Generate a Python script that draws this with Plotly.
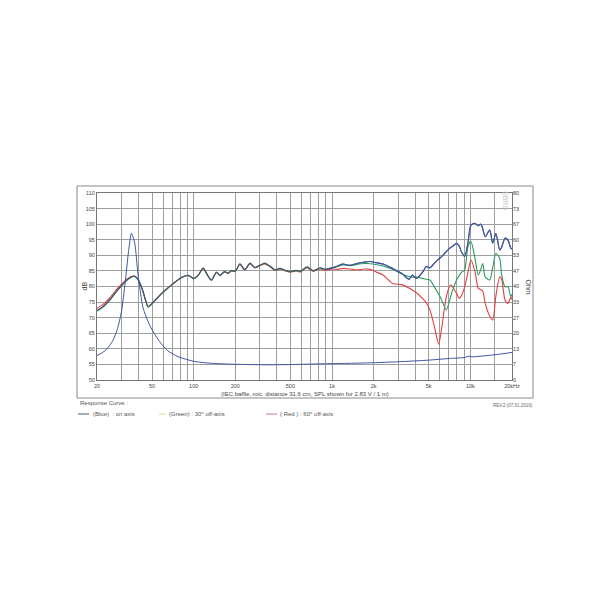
import plotly.graph_objects as go

# ---------------- data ----------------
freq_hz = [20, 22, 25, 28, 30, 32, 34.6, 36, 37.6, 39.6, 41, 43, 45, 46.8, 49.5, 53, 58.6, 64, 69.4, 75,
           82, 91.7, 99.8, 108, 117, 127, 134.5, 146, 155, 167, 177, 187, 200, 216, 234, 255, 277, 300,
           326, 360, 386, 420, 460, 500, 550, 590, 660, 730, 820, 900, 1000, 1100, 1200, 1350, 1510,
           1700, 1890, 2100, 2340, 2740, 3200, 3600, 3800, 4080, 4500, 4800, 5100, 5500, 5900, 6200,
           6700, 7200, 7400, 7950, 8300, 8600, 9100, 9600, 10100, 10800, 11400, 11900, 12300, 12800,
           13800, 14500, 15300, 16300, 16800, 17800, 18700, 19600, 20000]

spl_on_axis = [72.3, 73.5, 76.0, 78.8, 80.3, 81.6, 82.8, 83.2, 83.3, 82.3, 81.0, 78.5, 75.5, 73.6, 74.4,
               75.8, 77.8, 79.3, 80.6, 81.8, 83.0, 83.6, 82.6, 83.7, 85.9, 83.4, 82.1, 84.6, 83.6, 84.8,
               84.3, 85.1, 85.0, 87.3, 85.4, 87.5, 86.1, 86.8, 87.5, 86.4, 85.4, 85.8, 85.2, 84.8, 85.2,
               84.9, 86.3, 85.1, 86.0, 85.5, 86.0, 86.6, 87.2, 86.8, 87.4, 87.8, 88.0, 87.6, 87.2, 85.8,
               84.2, 82.3, 83.7, 82.6, 84.5, 86.4, 86.0, 87.5, 88.8, 89.6, 91.2, 92.5, 92.8, 93.9, 93.0,
               91.2, 89.6, 93.9, 99.7, 100.3, 99.5, 100.0, 98.5, 96.0, 98.1, 93.9, 97.0, 91.7, 92.5,
               95.5, 94.9, 92.3, 92.0]

spl_30deg = [72.1, 73.3, 75.8, 78.6, 80.1, 81.5, 82.7, 83.1, 83.2, 82.2, 80.8, 78.3, 75.3, 73.4, 74.2,
             75.6, 77.7, 79.2, 80.5, 81.7, 82.9, 83.5, 82.5, 83.6, 85.8, 83.3, 82.0, 84.5, 83.5, 84.7,
             84.2, 85.0, 84.9, 87.2, 85.3, 87.4, 86.0, 86.7, 87.4, 86.3, 85.3, 85.7, 85.1, 84.7, 85.1,
             84.8, 86.2, 85.0, 85.9, 85.4, 85.9, 86.4, 86.9, 86.7, 87.1, 87.4, 87.3, 87.0, 86.6, 85.5,
             84.0, 83.2, 83.0, 83.0, 82.6, 82.3, 82.1, 79.8, 77.5, 75.7, 72.5, 76.7, 78.5, 82.1, 83.5,
             84.5, 85.3, 92.8, 94.4, 89.0, 83.7, 85.5, 87.4, 83.1, 82.1, 86.0, 90.6, 89.0, 84.0, 79.9,
             80.0, 76.7, 77.5]

spl_60deg = [73.0, 74.2, 76.6, 79.3, 80.7, 81.9, 83.0, 83.3, 83.3, 82.2, 80.9, 78.4, 75.4, 73.5, 74.3,
             75.7, 77.7, 79.2, 80.5, 81.7, 82.9, 83.5, 82.5, 83.6, 85.8, 83.3, 82.0, 84.5, 83.5, 84.7,
             84.2, 85.0, 84.9, 87.1, 85.3, 87.3, 86.0, 86.6, 87.2, 86.2, 85.2, 85.6, 85.0, 84.6, 85.0,
             84.7, 86.0, 84.9, 85.6, 85.2, 85.6, 85.5, 85.8, 85.6, 85.3, 85.6, 85.5, 84.6, 83.7, 81.0,
             80.6, 79.5, 78.9, 78.0, 76.2, 74.8, 72.5, 67.1, 61.5, 66.5, 76.7, 80.5, 80.0, 77.8, 76.2,
             77.0, 79.9, 84.5, 88.5, 84.8, 79.4, 79.0, 78.5, 74.6, 70.5, 69.2, 77.0, 83.1, 82.5, 75.7,
             74.6, 76.5, 75.8]

imp_freq_hz = [20, 22, 24, 26, 28, 30, 32, 33.8, 35.5, 37.5, 39.6, 43, 48, 53, 58, 65, 77, 90, 102,
               130, 177, 250, 350, 500, 700, 1000, 1500, 2000, 3000, 5000, 7000, 9000, 9800, 10300,
               11000, 13000, 15000, 17500, 20000]
impedance_ohm = [10.5, 11.8, 13.8, 16.8, 21.5, 29.0, 42.0, 55.0, 62.8, 58.5, 45.0, 31.0, 23.5, 19.0,
                 15.7, 12.5, 10.0, 8.7, 7.9, 7.2, 6.8, 6.6, 6.5, 6.6, 6.8, 7.0, 7.2, 7.4, 7.8, 8.5,
                 9.2, 9.6, 10.2, 9.9, 10.0, 10.4, 10.8, 11.3, 11.8]

grid_freqs = [20, 30, 40, 50, 60, 70, 80, 90, 100, 200, 300, 400, 500, 600, 700, 800, 900,
              1000, 2000, 3000, 4000, 5000, 6000, 7000, 8000, 9000, 10000, 15000, 20000]
x_labels = {20: "20", 50: "50", 100: "100", 200: "200", 500: "500", 1000: "1k", 2000: "2k",
            5000: "5k", 10000: "10k", 20000: "20kHz"}
db_ticks = [50, 55, 60, 65, 70, 75, 80, 85, 90, 95, 100, 105, 110]
ohm_tickvals = [i * 80 / 12 for i in range(13)]
ohm_ticktext = ["0", "7", "13", "20", "27", "33", "40", "47", "53", "60", "67", "73", "80"]

# ---------------- figure ----------------
FONT = "Liberation Sans, Arial, sans-serif"
BLUE = "#3d57a3"
GREEN = "#2f9a5c"
RED = "#e2413f"

# page body has an 8px margin; plot area should sit at x 97..512, y 193..380 in the window
OFF = 8
PL, PT, PW, PH = 97 - OFF, 193 - OFF, 415, 187
FW, FH = 594, 594

fig = go.Figure()
fig.add_trace(go.Scatter(x=freq_hz, y=spl_60deg, mode="lines", name="60° off-axis",
                         line=dict(color=RED, width=1.1, shape="spline", smoothing=0.7)))
fig.add_trace(go.Scatter(x=freq_hz, y=spl_30deg, mode="lines", name="30° off-axis",
                         line=dict(color=GREEN, width=1.1, shape="spline", smoothing=0.7)))
fig.add_trace(go.Scatter(x=freq_hz, y=spl_on_axis, mode="lines", name="on axis",
                         line=dict(color="#4a5270", width=1.1, shape="spline", smoothing=0.7)))
fig.add_trace(go.Scatter(x=imp_freq_hz, y=impedance_ohm, mode="lines", name="impedance",
                         yaxis="y2",
                         line=dict(color=BLUE, width=1.0, shape="spline", smoothing=0.6)))

# on-axis curve above ~1 kHz drawn in blue (where it separates from the others)
hf_idx = [i for i, f in enumerate(freq_hz) if f >= 900]
fig.add_trace(go.Scatter(x=[freq_hz[i] for i in hf_idx], y=[spl_on_axis[i] for i in hf_idx],
                         mode="lines", line=dict(color=BLUE, width=1.1, shape="spline", smoothing=0.7)))

fig.update_layout(
    width=FW, height=FH, autosize=False,
    margin=dict(l=PL, r=FW - PL - PW, t=PT, b=FH - PT - PH, pad=0),
    paper_bgcolor="white", plot_bgcolor="white",
    showlegend=False,
    font=dict(family=FONT, size=6, color="#444"),
    xaxis=dict(type="log", range=[1.30103, 4.30103],
               tickvals=grid_freqs,
               ticktext=[x_labels.get(f, "") for f in grid_freqs],
               showgrid=True, gridcolor="#9e9e9e", gridwidth=1,
               ticks="", tickfont=dict(size=5.5, color="#444", family=FONT),
               showline=True, linecolor="#777", linewidth=1, mirror=True, zeroline=False),
    yaxis=dict(range=[50, 110], tickvals=db_ticks,
               showgrid=True, gridcolor="#9e9e9e", gridwidth=1,
               ticks="", tickfont=dict(size=5.5, color="#444", family=FONT),
               showline=True, linecolor="#777", linewidth=1, mirror=True, zeroline=False),
    yaxis2=dict(range=[0, 80], overlaying="y", side="right",
                tickvals=ohm_tickvals, ticktext=ohm_ticktext,
                showgrid=False, ticks="", zeroline=False,
                tickfont=dict(size=5.5, color="#444", family=FONT)),
)

def px_x(px):
    return (px - 97) / 415.0

def px_y(py):
    return (380 - py) / 187.0

# outer frame
fig.add_shape(type="rect", xref="paper", yref="paper",
              x0=px_x(77), x1=px_x(533), y0=px_y(398), y1=px_y(186),
              line=dict(color="#8a8a8a", width=1), fillcolor="rgba(0,0,0,0)", layer="below")

ann = []
ann.append(dict(text="dB", x=px_x(84), y=0.5, textangle=-90, font=dict(size=7, color="#444")))
ann.append(dict(text="Ohm", x=px_x(528), y=0.5, textangle=90, font=dict(size=7, color="#444")))
ann.append(dict(text="(IEC baffle, mic. distance 31.6 cm, SPL shown for 2.83 V / 1 m)",
                x=px_x(305), y=px_y(393.5), font=dict(size=6, color="#444")))
ann.append(dict(text="SBRS", x=px_x(506), y=px_y(200), textangle=90,
                font=dict(size=7, color="#c8c8c8")))
ann.append(dict(text="Response Curve :", x=px_x(78), y=px_y(403), xanchor="left",
                font=dict(size=6, color="#555")))
ann.append(dict(text="REV.2 (07.01.2019)", x=px_x(535), y=px_y(405), xanchor="right",
                font=dict(size=4.5, color="#666")))
ann.append(dict(text="(Blue)  : on axis", x=px_x(91), y=px_y(414), xanchor="left",
                font=dict(size=6, color="#555")))
ann.append(dict(text="(Green) : 30° off-axis", x=px_x(167), y=px_y(414), xanchor="left",
                font=dict(size=6, color="#555")))
ann.append(dict(text="( Red ) : 60° off-axis", x=px_x(278), y=px_y(414), xanchor="left",
                font=dict(size=6, color="#555")))
for a in ann:
    a.setdefault("xref", "paper")
    a.setdefault("yref", "paper")
    a.setdefault("showarrow", False)
    a.setdefault("xanchor", "center")
    a.setdefault("yanchor", "middle")
    fig.add_annotation(**a)

for (x0, x1, col) in [(78, 89, "#4a5a8a"), (159, 166, "#d6dca0"), (266, 277, "#e07070")]:
    fig.add_shape(type="line", xref="paper", yref="paper",
                  x0=px_x(x0), x1=px_x(x1), y0=px_y(414), y1=px_y(414),
                  line=dict(color=col, width=1))

fig.write_html("out.html")
